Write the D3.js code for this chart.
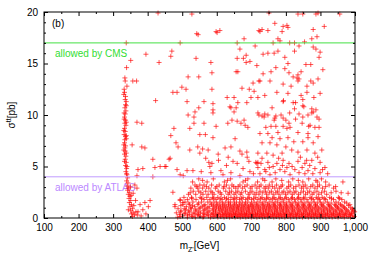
<!DOCTYPE html>
<html>
<head>
<meta charset="utf-8">
<script src="https://cdn.jsdelivr.net/npm/d3@7"></script>
<style>
  body { margin: 0; background: #fff; }
  svg text { font-family: "Liberation Sans", Arial, sans-serif; }
</style>
</head>
<body>
<svg id="chart" width="374" height="262"></svg>
<script>
// mZ' [GeV] vs sigma_tt [pb]

// the narrow band just above 330 GeV  [m, sigma]
var bandPts = [
  [338,17.0],[339,14.6],[334,13.6],[335,13.3],[340,12.8],[332,12.5],[333,12.2],[331,12.0],
  [336,11.8],[335,11.5],[338,11.3],[336,11.0],[338,10.9],[334,10.7],[337,10.4],[332,10.2],
  [335,10.1],[333,9.8],[332,9.6],[336,9.5],[338,9.3],[334,9.2],[337,9.0],[333,8.7],
  [331,8.5],[335,8.4],[332,8.1],[338,8.0],[336,7.9],[338,7.7],[334,7.6],[333,7.3],
  [331,7.1],[336,7.0],[334,6.8],[331,6.6],[335,6.5],[338,6.3],[333,6.2],[337,6.0],
  [335,5.7],[333,5.5],[338,5.4],[336,5.1],[340,5.0],[339,4.8],[337,4.5],[339,4.3],
  [340,4.2],[342,3.9],[339,3.6],[343,3.4],[341,3.1],[350,3.0],[345,2.9],[342,2.7],
  [347,2.5],[344,2.3],[352,2.2],[349,2.1],[346,1.9],[351,1.7],[347,1.5],[353,1.3],
  [360,1.2],[349,1.1],[356,0.9],[344,0.8],[351,0.7],[366,0.6],[358,0.5],[353,0.4],
  [362,0.3],[370,0.3],[356,0.15]
];

// isolated points spread over the plane  [m, sigma]
var scatterPts = [
  [430,19.9],[528,19.8],[751,19.9],[835,19.8],[849,19.8],[887,19.8],[893,19.9],[956,19.8],
  [542,17.9],[546,17.8],[598,18.1],[601,18.0],[609,18.2],[722,18.2],[768,18.9],[792,18.6],
  [803,18.7],[806,18.5],[731,18.3],[725,18.1],[748,18.2],[789,18.1],[879,18.3],[911,18.6],
  [494,17.0],[659,17.0],[679,17.4],[711,16.7],[667,16.4],[890,17.6],[875,17.4],[777,17.4],
  [783,17.2],[763,17.0],[811,17.0],[825,17.0],[854,17.1],[838,16.7],[879,16.6],[887,16.4],
  [899,16.1],[825,16.2],[777,16.2],[748,16.0],[734,15.9],[766,16.0],[797,15.6],[896,15.6],
  [395,15.9],[433,15.1],[351,15.3],[470,16.2],[685,15.8],[467,15.7],[659,15.5],[677,15.5],
  [696,15.2],[685,15.1],[540,15.5],[583,15.1],
  [656,14.2],[661,14.2],[586,14.1],[716,14.8],[517,13.7],[548,13.7],[357,13.3],[368,13.3],
  [722,13.3],[705,13.1],[499,12.7],[511,12.5],[473,12.2],[485,12.2],[586,12.5],[673,12.6],
  [694,12.5],[708,12.3],[630,11.7],[650,11.7],[699,11.7],[719,11.7],[423,11.4],[514,11.3],
  [563,11.3],[589,11.1],[661,11.2],[687,11.2],[641,10.7],[548,10.7],[656,10.7],[589,10.5],
  [650,10.3],[589,10.2],[537,10.3],[517,10.0],[534,9.8],[719,10.2],[722,10.0],[638,10.8],
  [806,15.0],[858,14.9],[872,14.9],[771,14.6],[797,14.5],[844,14.2],[757,14.2],[809,14.1],
  [907,14.4],[734,14.0],[835,13.9],[832,13.6],[838,13.5],[835,13.3],[821,13.7],[872,13.3],
  [879,13.1],[893,13.5],[725,13.3],[754,13.3],[792,13.0],[815,12.8],[861,12.8],[774,12.2],
  [806,12.1],[861,12.2],[899,12.1],[844,11.9],[739,11.9],[881,11.7],[849,11.5],[793,11.4],
  [821,11.2],[760,10.7],[849,10.9],[852,10.8],[875,10.6],[887,10.5],[825,10.6],[739,10.1],
  [731,9.9],[737,9.8],[771,9.9],[748,10.0],[811,10.2],[838,10.1],[849,9.8],[875,10.2],
  [896,9.6],[766,9.5],[792,9.7],[828,9.6],[866,8.9],[896,8.8],[771,8.9],[803,8.7],[742,8.8],
  [644,9.5],[659,9.4],[679,9.5],[682,9.0],[632,9.2],[598,8.9],[534,9.2],[522,8.7],[476,8.7],
  [563,9.2],[670,9.2],[690,8.8],[467,8.0],[551,8.1],[567,8.1],[589,7.8],[653,7.7],[482,7.3],
  [488,6.9],[522,6.6],[551,6.3],[559,6.7],[545,6.9],[575,6.6],[604,6.2],[624,6.8],[641,6.9],
  [667,6.5],[673,6.2],[687,6.4],[577,5.4],[586,5.3],[580,5.0],[647,5.5],[659,5.3],[693,5.5],
  [716,5.3],[462,5.7],[453,5.0],[485,4.7],[514,4.6],[531,4.6],[583,4.4],[618,4.2],[667,4.1],
  [494,4.2],[503,4.1],[696,4.5],[719,5.4],
  [792,11.3],[828,11.2],[786,10.0],[879,10.3],[890,9.8],[864,10.0],[768,9.7],[800,9.5],
  [809,9.2],[847,9.2],[757,8.9],[792,8.9],[812,8.8],[870,9.0],[884,8.8],[725,8.2],[748,8.2],
  [777,8.3],[835,8.3],[864,8.2],[760,7.8],[783,7.7],[806,7.8],[823,7.4],[849,7.4],[864,7.8],
  [879,7.3],[893,7.9],[731,7.3],[754,7.3],[774,7.1],[800,6.9],[817,6.6],[835,6.4],[861,6.6],
  [884,6.3],[904,6.6],[719,6.3],[745,6.3],[763,6.1],[789,6.3],[713,5.4],[728,5.3],[748,5.4],
  [774,5.3],[792,5.6],[809,5.3],[835,5.5],[855,5.3],[875,5.6],[899,5.4],[913,4.9],[719,4.9],
  [739,4.7],[763,5.0],[783,4.7],[803,4.9],[826,4.7],[847,4.9],[864,4.6],[884,4.8],[899,4.4],
  [725,4.3],[754,4.2],[812,4.2],[855,4.3],
  [612,4.6],[628,5.1],[641,4.4],[676,4.8],[706,4.3],[731,5.8],[742,4.5],[769,4.4],[779,5.8],
  [797,4.5],[818,5.0],[838,4.4],[842,5.9],[869,5.1],[878,4.3],[892,5.9],[906,4.7],[921,4.3],
  [688,5.9],[605,5.6],[633,5.9],[752,4.9],[790,5.1],[860,5.6],[555,4.5],[568,5.8],
  [355,7.1],[369,9.3],[383,9.2],[383,6.9],[392,6.8],[415,5.7],[465,5.8],[436,5.0],[421,4.9],
  [450,5.0],[386,4.8],[372,4.7],[369,4.1],[415,4.0],
  [363,3.2],[369,2.9],[358,2.4],[407,1.7],[392,1.5],[378,1.3],[386,0.8],[372,0.6],[395,0.4],
  [402,1.1],[381,0.2],[365,1.7],[473,2.5],[494,1.7],[479,1.1],[502,1.5],[965,3.5],[980,2.4]
];

// crowded low-sigma region: sigma level -> list of masses
var denseSigma = [3.8, 3.65, 3.5, 3.2, 3.05, 2.9, 2.6, 2.45, 2.3, 2.0, 1.9, 1.8, 1.55, 1.45,
                  1.3, 1.2, 1.1, 1.0, 0.9, 0.8, 0.7, 0.6, 0.5, 0.42, 0.35, 0.28, 0.2, 0.14, 0.08];
var denseMass = [
  [548,590,640,690,733,771,820,866,903],
  [559,631,683,739,788,836,887],
  [530,572,622,676,718,760,808,849,891,915],
  [537,551,563,585,607,628,644,667,688,711,728,752,773,790,814,838,856,878,897,925],
  [542,570,600,621,649,662,681,702,723,742,761,786,808,829,850,872,892,915,944],
  [525,545,559,577,596,619,636,655,674,697,716,737,749,768,781,803,822,845,861,884,906,938],
  [532,548,568,583,604,626,643,661,683,702,725,741,758,776,794,812,829,851,869,890,912,945],
  [523,554,587,610,637,655,672,696,714,733,752,771,789,806,824,843,863,881,903,931,960],
  [518,539,560,575,592,613,633,650,668,691,708,722,744,763,780,799,818,836,857,876,895,918],
  [505,527,552,571,588,603,622,641,658,676,694,713,731,748,766,784,801,819,837,852,870,888,905,927,952],
  [528,556,590,610,628,652,671,690,707,727,744,762,780,797,816,834,852,874,893,911,932,955],
  [494,515,540,563,580,598,615,633,648,666,684,701,719,737,754,771,789,807,825,843,861,879,897,915,938,962],
  [508,531,556,574,592,609,626,640,657,674,690,708,725,742,760,776,793,811,828,846,864,882,900,920,945,970],
  [519,547,583,600,617,635,651,667,683,700,716,733,751,768,785,802,820,837,855,873,891,910,931,953,976],
  [479,502,521,545,566,585,601,618,634,650,665,681,698,714,731,747,764,781,797,814,832,849,867,885,903,923,941,958,985],
  [496,530,563,590,607,623,640,656,672,688,703,719,736,752,768,784,801,817,834,851,868,886,905,925,944,962,981],
  [512,536,558,578,595,611,627,644,660,676,692,706,722,739,755,771,788,804,820,838,855,872,890,908,927,948,966],
  [524,552,574,599,616,632,648,663,679,694,711,727,744,760,776,793,809,826,844,861,878,895,913,931,949,969,988],
  [488,506,527,549,569,588,605,620,637,652,668,684,700,716,733,749,766,782,798,815,832,849,865,882,899,917,934,952,971,992],
  [510,539,565,591,609,625,641,657,672,688,704,720,736,752,769,786,802,819,836,853,870,887,904,921,939,957,975,993],
  [497,518,540,561,580,597,613,629,645,661,676,692,708,724,741,757,773,790,806,823,840,857,874,891,909,926,944,961,979,996],
  [495,522,548,575,596,616,632,648,664,679,695,711,727,743,760,776,793,809,826,843,860,877,894,911,929,946,964,982,999],
  [483,509,532,553,572,590,607,623,638,654,670,686,702,718,734,750,767,783,800,817,834,851,868,885,902,920,937,955,973,990],
  [506,536,561,587,606,625,641,656,672,687,703,719,735,751,768,785,801,818,835,852,869,886,903,920,938,956,974,991],
  [492,520,544,565,584,601,617,633,649,664,680,696,712,728,745,761,777,794,811,828,845,862,879,896,913,931,948,966,984],
  [515,547,572,598,619,636,652,667,683,699,714,730,747,763,779,796,813,830,847,864,881,898,915,933,951,969,987],
  [501,527,551,576,594,611,628,643,659,675,690,706,722,738,755,771,787,804,821,838,855,872,889,906,923,941,958,976,994],
  [494,530,562,590,612,629,645,661,676,692,708,724,740,757,773,789,806,823,840,857,874,891,908,926,944,962,980,998],
  [487,515,538,560,582,603,621,637,653,668,684,700,716,732,748,765,781,797,814,831,848,865,882,899,916,934,951,969,987]
];

var xTicks = [100,200,300,400,500,600,700,800,900,1000];
var yTicks = [0,5,10,15,20];
var cmsLimit = 17;
var atlasLimit = 4;

var svg = d3.select('#chart');
var margin = {top: 12, right: 19, bottom: 44, left: 44};
var W = 374 - margin.left - margin.right;
var H = 262 - margin.top - margin.bottom;

var x = d3.scaleLinear().domain([100, 1000]).range([0, W]);
var y = d3.scaleLinear().domain([0, 20]).range([H, 0]);

var g = svg.append('g').attr('transform', 'translate(' + margin.left + ',' + margin.top + ')');

// all points together
var pts = bandPts.concat(scatterPts);
denseSigma.forEach(function(s, i){
  denseMass[i].forEach(function(m){ pts.push([m, s]); });
});

// limit labels (drawn under the points, as in the picture)
g.append('text').attr('x', 11).attr('y', y(cmsLimit) + 14)
  .attr('fill', '#33dd33').style('font-size', '10px').text('allowed by CMS');
g.append('text').attr('x', 11).attr('y', y(atlasLimit) + 14)
  .attr('fill', '#bb88ff').style('font-size', '10px').text('allowed by ATLAS');

g.append('g').selectAll('path.pt').data(pts).enter().append('path')
  .attr('class', 'pt')
  .attr('transform', function(d){ return 'translate(' + x(d[0]) + ',' + y(d[1]) + ')'; })
  .attr('d', 'M-2.5,0H2.5M0,-2.5V2.5')
  .attr('stroke', '#ff0000')
  .attr('stroke-opacity', 0.65)
  .attr('stroke-width', 1)
  .attr('fill', 'none');

// limit lines
g.append('line').attr('x1', 0).attr('x2', W).attr('y1', y(cmsLimit)).attr('y2', y(cmsLimit))
  .attr('stroke', '#44e044').attr('stroke-width', 1);
g.append('line').attr('x1', 0).attr('x2', W).attr('y1', y(atlasLimit)).attr('y2', y(atlasLimit))
  .attr('stroke', '#c09cff').attr('stroke-width', 1);

// ticks, pointing inward on all four sides
function styleAxis(sel){
  sel.select('.domain').remove();
  sel.selectAll('line').attr('stroke', '#000');
  sel.selectAll('text').attr('fill', '#000').style('font-size', '10px')
    .style('font-family', '"Liberation Sans", Arial, sans-serif');
}
var xMinor = d3.range(150, 1000, 100);
var yMinor = d3.range(1, 20).filter(function(v){ return v % 5 !== 0; });

g.append('g').attr('transform', 'translate(0,' + H + ')')
  .call(d3.axisBottom(x).tickValues(xTicks).tickSize(-4).tickPadding(6)).call(styleAxis);
g.append('g').attr('transform', 'translate(0,' + H + ')')
  .call(d3.axisBottom(x).tickValues(xMinor).tickSize(-2).tickFormat('')).call(styleAxis);
g.append('g')
  .call(d3.axisTop(x).tickValues(xTicks).tickSize(-4).tickFormat('')).call(styleAxis);
g.append('g')
  .call(d3.axisTop(x).tickValues(xMinor).tickSize(-2).tickFormat('')).call(styleAxis);
g.append('g')
  .call(d3.axisLeft(y).tickValues(yTicks).tickSize(-4).tickPadding(6)).call(styleAxis);
g.append('g')
  .call(d3.axisLeft(y).tickValues(yMinor).tickSize(-2).tickFormat('')).call(styleAxis);
g.append('g').attr('transform', 'translate(' + W + ',0)')
  .call(d3.axisRight(y).tickValues(yTicks).tickSize(-4).tickFormat('')).call(styleAxis);
g.append('g').attr('transform', 'translate(' + W + ',0)')
  .call(d3.axisRight(y).tickValues(yMinor).tickSize(-2).tickFormat('')).call(styleAxis);

g.append('rect').attr('width', W).attr('height', H)
  .attr('fill', 'none').attr('stroke', '#000').attr('stroke-width', 1);

g.append('text').attr('x', 8).attr('y', 15).style('font-size', '10px').text('(b)');

// axis titles
var xl = svg.append('text').attr('x', margin.left + W / 2).attr('y', 249)
  .attr('text-anchor', 'middle').style('font-size', '10px');
xl.append('tspan').text('m');
xl.append('tspan').attr('dy', 3).style('font-size', '7px').text("Z'");
xl.append('tspan').attr('dy', -3).text('[GeV]');

var yl = svg.append('text').attr('transform', 'translate(15,' + (margin.top + H / 2) + ') rotate(-90)')
  .attr('text-anchor', 'middle').style('font-size', '10px');
yl.append('tspan').text('σ');
yl.append('tspan').attr('dy', -4).style('font-size', '7px').text('tt');
yl.append('tspan').attr('dy', 4).text('[pb]');
</script>
</body>
</html>
